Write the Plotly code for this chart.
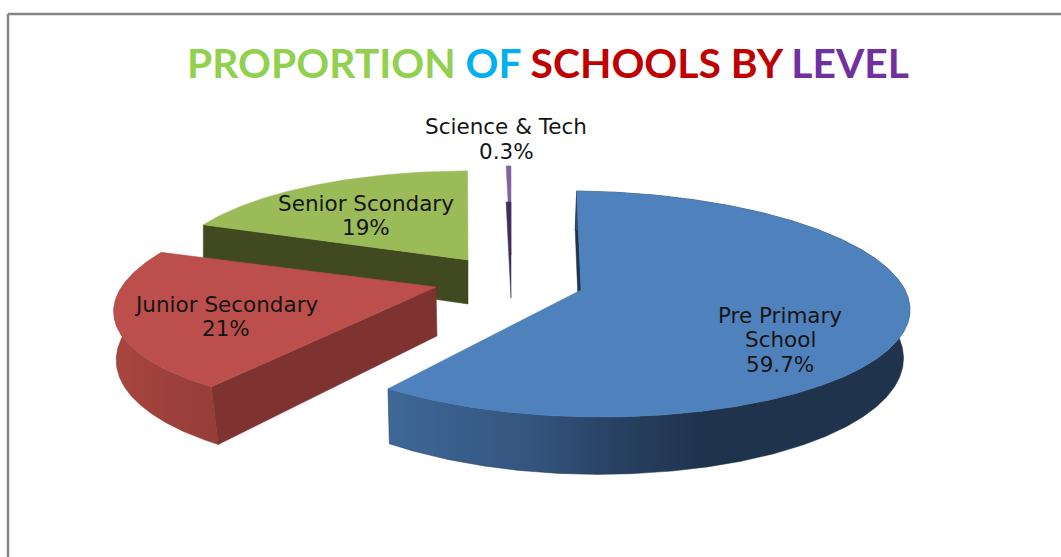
import numpy as np
import plotly.graph_objects as go

# ---- data ----
categories = ["Pre Primary School", "Junior Secondary", "Senior Scondary", "Science & Tech"]
values = [59.7, 21, 19, 0.3]
value_labels = ["59.7%", "21%", "19%", "0.3%"]

# ---- style / geometry of the exploded perspective pie (screen pixels) ----
top_colors = ["#4f81bd", "#bc4f4c", "#9bbb59", "#8064a2"]
wall_colors = ["#1f334d", "#7f3331", "#40491f", "#3e2f5b"]
apex_x = [581, 436, 468, 511]
apex_y = [290, 287, 260, 255]
scale = [1.0, 0.97, 0.9, 0.9]
shear = [-0.05, 0.10, 0.0, 0.0]
left_squeeze = [0.96, 1.0, 1.02, 1.0]
nudge = [2.0, -1.0, 1.0, 0.0]      # degrees, perspective correction of the start angle
thickness = [47, 49, 44, 43]
inset = [0.985, 1.0, 1.0, 1.0]
wall_dx = [-1.5, 1, 0, 0]
wall_shear = [0, -7, 0, 0]
label_x = [780, 226, 366, 506]
label_lines = [[315, 339, 364], [304, 328], [203, 227], [126, 151]]
label_text = [["Pre Primary", "School"], [categories[1]], [categories[2]], [categories[3]]]
R, RY, K = 324.0, 111.3, 0.124

def project(i, t_deg):
    t = np.radians(t_deg)
    X, Y = np.sin(t), np.cos(t)
    X = np.where(X < 0, X * left_squeeze[i], X)
    f = 1 / (1 + K * Y)
    x = apex_x[i] + scale[i] * R * f * (X + shear[i] * Y)
    y = apex_y[i] - scale[i] * RY * f * Y
    return x, y, f

def lower(i, x, y, f):
    Y = (1 / f - 1) / K
    return (apex_x[i] + (x - apex_x[i]) * inset[i] + wall_dx[i] + wall_shear[i] * Y,
            y + thickness[i] * f ** 1.5)

total = sum(values)
bounds = np.cumsum([0] + values) / total * 360

fig = go.Figure()

def poly(x, y, color, grad=None):
    kw = dict(fillgradient=grad) if grad else dict(fillcolor=color)
    fig.add_trace(go.Scatter(x=list(x), y=list(y), mode="lines", fill="toself",
                             line=dict(width=0.5, color=color), hoverinfo="skip",
                             showlegend=False, **kw))

def slice_geom(i):
    a, b = bounds[i] + nudge[i], bounds[i + 1] + nudge[i]
    ts = np.linspace(a, b, max(8, int((b - a) * 2)))
    x, y, f = project(i, ts)
    return ts, x, y, f

rim_grad = {
    0: dict(type="horizontal", colorscale=[[0, "#3f6898"], [0.27, "#34557f"], [0.41, "#2a4467"],
                                           [0.6, "#1f334d"], [1, "#1f334d"]]),
    1: dict(type="horizontal", colorscale=[[0, "#a9453f"], [0.6, "#9c403b"], [1, "#963e3a"]]),
}

for i in [2, 1, 0]:
    ts, x, y, f = slice_geom(i)
    lx, ly = lower(i, x, y, f)
    # flat wall at the slice's leading edge
    ax, ay = float(apex_x[i]), float(apex_y[i])
    lax, lay = lower(i, np.array(ax), np.array(ay), np.array(1.0))
    poly([ax, x[0], lx[0], float(lax), ax], [ay, y[0], ly[0], float(lay), ay], wall_colors[i])
    # outer curved wall
    if i in rim_grad:
        poly(np.r_[x, lx[::-1], x[0]], np.r_[y, ly[::-1], y[0]], wall_colors[i], rim_grad[i])
    # top face
    poly(np.r_[ax, x, ax], np.r_[ay, y, ay], top_colors[i])

# thin sliver: top face, with the dark wall showing over its lower part
i = 3
ts, x, y, f = slice_geom(i)
ax, ay = float(apex_x[i]), float(apex_y[i])
poly(np.r_[ax, x, ax], np.r_[ay, y, ay], top_colors[i])
lx, ly = lower(i, x, y, f)
lax, lay = lower(i, np.array(ax), np.array(ay), np.array(1.0))
poly(np.r_[float(lax), lx, float(lax)], np.r_[float(lay), ly, float(lay)], wall_colors[i])

for j in range(4):
    for txt, yy in zip(label_text[j] + [value_labels[j]], label_lines[j]):
        fig.add_annotation(x=label_x[j], y=yy, text=txt, showarrow=False,
                           font=dict(family="DejaVu Sans", size=21.5, color="#151515"),
                           align="center", xanchor="center", yanchor="middle")

title = ('<span style="color:#92d050">PROPORTION</span> '
         '<span style="color:#00b0f0">OF</span> '
         '<span style="color:#c00000">SCHOOLS BY</span> '
         '<span style="color:#7030a0">LEVEL</span>')
fig.add_annotation(x=548, y=62, text=f"<b>{title}</b>", showarrow=False,
                   font=dict(family="Lato", size=40.8), xanchor="center", yanchor="middle")

frame = dict(type="line", line=dict(color="#868686", width=2.5), xref="x", yref="y", layer="below")
fig.add_shape(x0=8, x1=8, y0=14, y1=557, **frame)
fig.add_shape(x0=8, x1=1061, y0=14, y1=14, **frame)

fig.update_layout(width=1061, height=557, autosize=False, margin=dict(l=0, r=0, t=0, b=0),
                  paper_bgcolor="white", plot_bgcolor="white", showlegend=False,
                  xaxis=dict(range=[0, 1061], visible=False, fixedrange=True),
                  yaxis=dict(range=[557, 0], visible=False, fixedrange=True))
fig.write_html("out.html", config=dict(displayModeBar=False),
               post_script="document.body.style.margin='0';document.body.style.overflow='hidden';")
